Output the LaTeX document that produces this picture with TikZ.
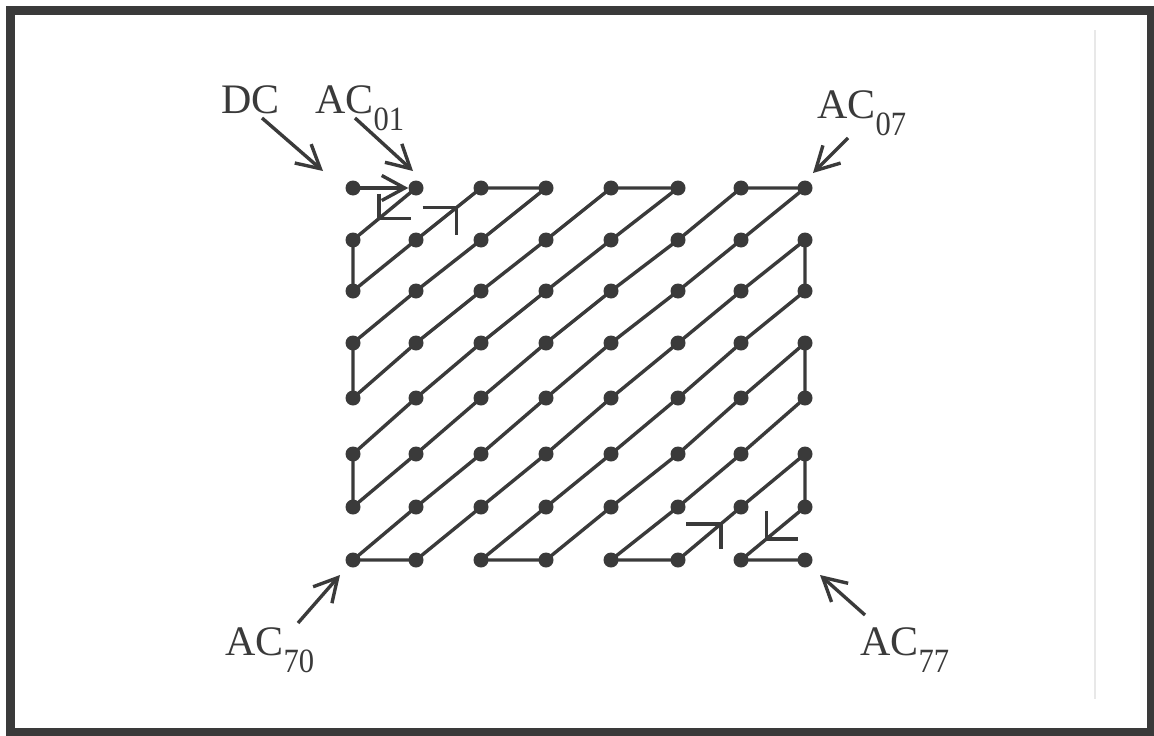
\documentclass[tikz,border=0pt]{standalone}
\usepackage{fontspec}
\setmainfont{Liberation Serif}
\usetikzlibrary{arrows.meta,calc}
\definecolor{ink}{RGB}{58,58,58}
\newcommand\subsc[1]{\raisebox{-17pt}{\scalebox{0.9}[1]{\fontsize{34}{38}\selectfont #1}}}
\begin{document}
\begin{tikzpicture}[x=1pt,y=-1pt,
  dot/.style={circle,fill=ink,inner sep=0pt,minimum size=15pt},
  zz/.style={draw=ink,line width=3.4pt,line join=round},
  arr/.style={draw=ink,line width=3.4pt,-{Straight Barb[length=23pt,width=25pt]}},
  lbl/.style={text=ink,inner sep=0pt,anchor=base west,font=\fontsize{42}{50}\selectfont}]
\useasboundingbox (0,0) rectangle (1154,736);
% frame
\draw[ink,line width=9pt] (10,10.5) rectangle (1151,732);
\draw[black!9,line width=1.5pt] (1095,30) -- (1095,699);
% grid of coefficients
\foreach \r/\yy in {0/188,1/240,2/291,3/343,4/398,5/454,6/507,7/560}
  \foreach \c/\xx in {0/353,1/416,2/481,3/546,4/611,5/678,6/741,7/805}
    \node[dot] (n\r\c) at (\xx,\yy) {};
% zigzag scan
\draw[arr] (n00.center) -- (n01);
\draw[zz] (n01.center)
  \foreach \p in {10,20,11,02,03,12,21,30,40,31,22,13,04,05,14,23,32,41,50,60,51,42,33,24,15,06,07,16,25,34,43,52,61,70,71,62,53,44,35,26,17,27,36,45,54,63,72,73,64,55,46,37,47,56,65,74,75,66,57,67,76,77} { -- (n\p.center) };
% direction marks on diagonals
\coordinate (m1) at ($(n01)!0.59!(n10)$);
\coordinate (m2) at ($(n20)!0.81!(n02)$);
\coordinate (m3) at ($(n75)!0.34!(n57)$);
\coordinate (m4) at ($(n67)!0.60!(n76)$);
\draw[zz] ($(m1)+(0,-25)$) -- (m1) -- ($(m1)+(32,0)$);
\draw[zz] ($(m2)+(-34,0)$) -- (m2) -- ($(m2)+(0,27)$);
\draw[zz] ($(m3)+(-35,0)$) -- (m3) -- ($(m3)+(0,25)$);
\draw[zz] ($(m4)+(0,-28)$) -- (m4) -- ($(m4)+(31,0)$);
% labels
\node[lbl] (dc) at (221,113) {DC};
\node[lbl] (ac01) at (315,113) {AC\subsc{01}};
\node[lbl] (ac07) at (817,118) {AC\subsc{07}};
\node[lbl] (ac70) at (225,655) {AC\subsc{70}};
\node[lbl] (ac77) at (860,655) {AC\subsc{77}};
% label arrows
\coordinate (dcT) at (262,118);  \coordinate (dcH) at (323,171);
\coordinate (a1T) at (355,118);  \coordinate (a1H) at (413,171);
\coordinate (a7T) at (848,138);  \coordinate (a7H) at (813,173);
\coordinate (a70T) at (298,623); \coordinate (a70H) at (340,575);
\coordinate (a77T) at (865,615); \coordinate (a77H) at (820,575);
\draw[arr] (dcT) -- (dcH);
\draw[arr] (a1T) -- (a1H);
\draw[arr] (a7T) -- (a7H);
\draw[arr] (a70T) -- (a70H);
\draw[arr] (a77T) -- (a77H);
\end{tikzpicture}
\end{document}
